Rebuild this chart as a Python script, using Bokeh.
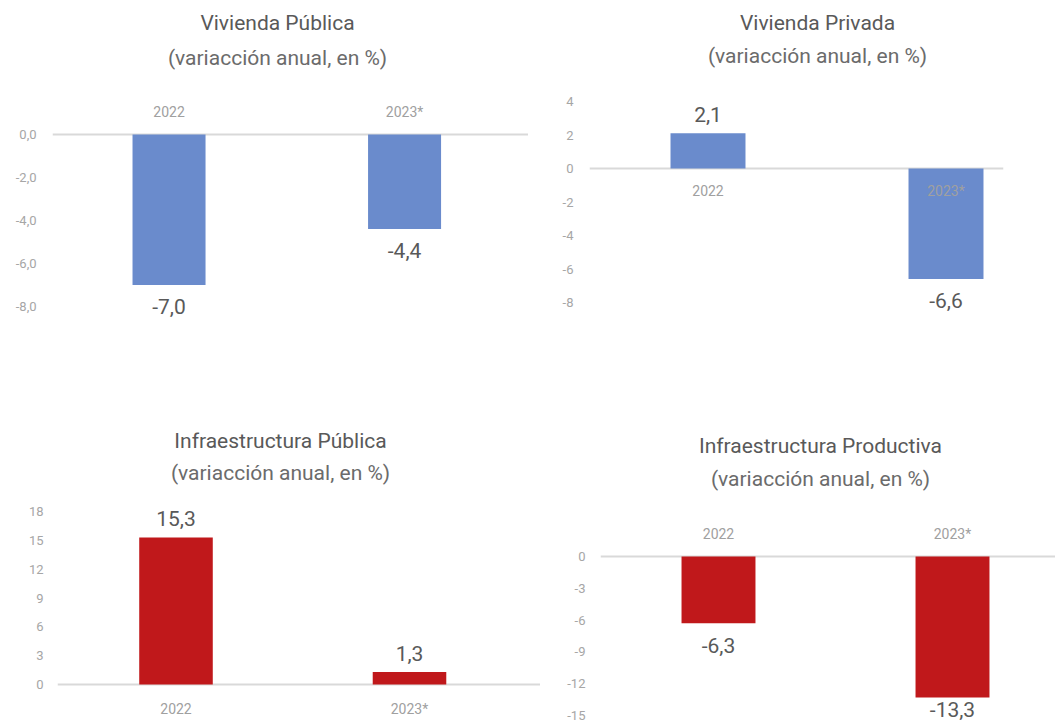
from bokeh.plotting import figure
from bokeh.models import (ColumnDataSource, Range1d, FixedTicker, LinearAxis, Label,
                          Span, CustomJSTickFormatter)
from bokeh.layouts import row, column
from bokeh.embed import file_html
from bokeh.resources import INLINE
from bokeh.core.properties import value

# ---------------- data ----------------
categories = ["2022", "2023*"]
vivienda_publica = [-7.0, -4.4]
vivienda_privada = [2.1, -6.6]
infra_publica = [15.3, 1.3]
infra_productiva = [-6.3, -13.3]

titles = ["Vivienda Pública", "Vivienda Privada",
          "Infraestructura Pública", "Infraestructura Productiva"]
subtitle = "(variacción anual, en %)"

ticks_vpub = [0, -2, -4, -6, -8]
ticks_vpriv = [4, 2, 0, -2, -4, -6, -8]
ticks_ipub = [0, 3, 6, 9, 12, 15, 18]
ticks_iprod = [0, -3, -6, -9, -12, -15]

# ---------------- style ----------------
BLUE = "#6a8bcc"
RED = "#c0181b"
FONT = "'Liberation Sans Narrow', 'Roboto', sans-serif"
TITLE_C = "#595959"
SUB_C = "#6b6b6b"
VAL_C = "#595959"
TICK_C = "#a6a6a6"
CAT_C = "#a0a0a0"


def make_panel(vals, color, ticks, decimals, g):
    # g holds page-pixel geometry
    W, H = g["W"], g["H"]
    fl, fr = g["frame"]
    ft, fb = g["top"], g["top"] + H          # frame spans the full canvas height
    c0, c1 = g["centers"]
    dx = c1 - c0
    x_start = -(c0 - fl) / dx
    x_end = 1 + (fr - c1) / dx
    ys = g["yscale"]
    y_end = (g["zero"] - ft) / ys
    y_start = -(fb - g["zero"]) / ys

    p = figure(width=W, height=H,
               x_range=Range1d(x_start, x_end), y_range=Range1d(y_start, y_end),
               output_backend="svg", toolbar_location=None,
               x_axis_location=None, y_axis_location=None,
               min_border_left=fl - g["left"], min_border_right=g["left"] + W - fr,
               min_border_top=0, min_border_bottom=0)
    p.frame_align = False
    p.outline_line_color = None
    p.grid.visible = False
    p.background_fill_color = "white"
    p.border_fill_color = "white"

    # y axis
    ya = LinearAxis(ticker=FixedTicker(ticks=ticks))
    ya.formatter = CustomJSTickFormatter(args=dict(d=decimals),
                                         code="return tick.toFixed(d).replace('.', ',');")
    ya.axis_line_color = None
    ya.major_tick_line_color = None
    ya.minor_tick_line_color = None
    ya.major_tick_out = 0
    ya.major_tick_in = 0
    ya.minor_tick_out = 0
    ya.major_label_text_color = TICK_C
    ya.major_label_text_font = FONT
    ya.major_label_text_font_size = "13px"
    ya.major_label_standoff = g["ystand"]
    p.add_layout(ya, "left")

    # zero line
    p.add_layout(Span(location=0, dimension="width", line_color="#d9d9d9", line_width=2, level="underlay"))

    xs = list(range(len(categories)))
    labels = [f"{v:.1f}".replace(".", ",") for v in vals]
    offs = [-g["up"][i] if v >= 0 else g["down"][i] for i, v in enumerate(vals)]
    src = ColumnDataSource(dict(x=xs, top=vals, zero=[0] * len(xs), lab=labels, off=offs,
                                cat=categories, coff=[g["cat_off"]] * len(xs)))
    p.vbar(x="x", top="top", bottom=0, width=g["barw"], source=src,
           fill_color=color, line_color=None)
    # category labels next to the zero line
    p.text(x="x", y="zero", text="cat", y_offset="coff", source=src,
           text_align="center", text_baseline="middle",
           text_font=value(FONT), text_font_size="14px", text_color=CAT_C)
    # data labels
    p.text(x="x", y="top", text="lab", y_offset="off", source=src,
           text_align="center", text_baseline="middle",
           text_font=value(FONT), text_font_size="21px", text_color=VAL_C)

    tx, ty = g["title"]
    sx, sy = g["sub"]
    p.add_layout(Label(x=tx - fl, y=fb - ty, x_units="screen", y_units="screen",
                       text=g["name"], text_align="center", text_baseline="middle",
                       text_font=FONT, text_font_size="21px", text_color=TITLE_C))
    p.add_layout(Label(x=sx - fl, y=fb - sy, x_units="screen", y_units="screen",
                       text=subtitle, text_align="center", text_baseline="middle",
                       text_font=FONT, text_font_size="21px", text_color=SUB_C))
    return p


g1 = dict(name=titles[0], left=0, top=0, W=528, H=372, frame=(52, 534),
          centers=(170, 408.5), zero=134, yscale=21.5, barw=0.31,
          cat_off=-23, ystand=16, up=(19, 19), down=(21, 21),
          title=(277, 22), sub=(277, 57))
g2 = dict(name=titles[1], left=528, top=0, W=527, H=372, frame=(589, 1003),
          centers=(707.5, 945.5), zero=168, yscale=16.75, barw=0.315,
          cat_off=22, ystand=16, up=(19, 19), down=(21, 21),
          title=(817, 22), sub=(817, 55))
g3 = dict(name=titles[2], left=0, top=372, W=540, H=352, frame=(57, 540),
          centers=(175.5, 409), zero=684, yscale=9.61, barw=0.315,
          cat_off=24, ystand=14, up=(19, 19), down=(21, 21),
          title=(280, 440), sub=(280, 472))
g4 = dict(name=titles[3], left=540, top=372, W=515, H=352, frame=(600, 1055),
          centers=(718, 952), zero=556, yscale=10.6, barw=0.316,
          cat_off=-23, ystand=15, up=(19, 19), down=(22, 12),
          title=(820, 445), sub=(820, 478))

p1 = make_panel(vivienda_publica, BLUE, ticks_vpub, 1, g1)
p2 = make_panel(vivienda_privada, BLUE, ticks_vpriv, 0, g2)
p3 = make_panel(infra_publica, RED, ticks_ipub, 0, g3)
p4 = make_panel(infra_productiva, RED, ticks_iprod, 0, g4)

layout = column(row(p1, p2), row(p3, p4))
open("out.html", "w").write(file_html(layout, INLINE))
